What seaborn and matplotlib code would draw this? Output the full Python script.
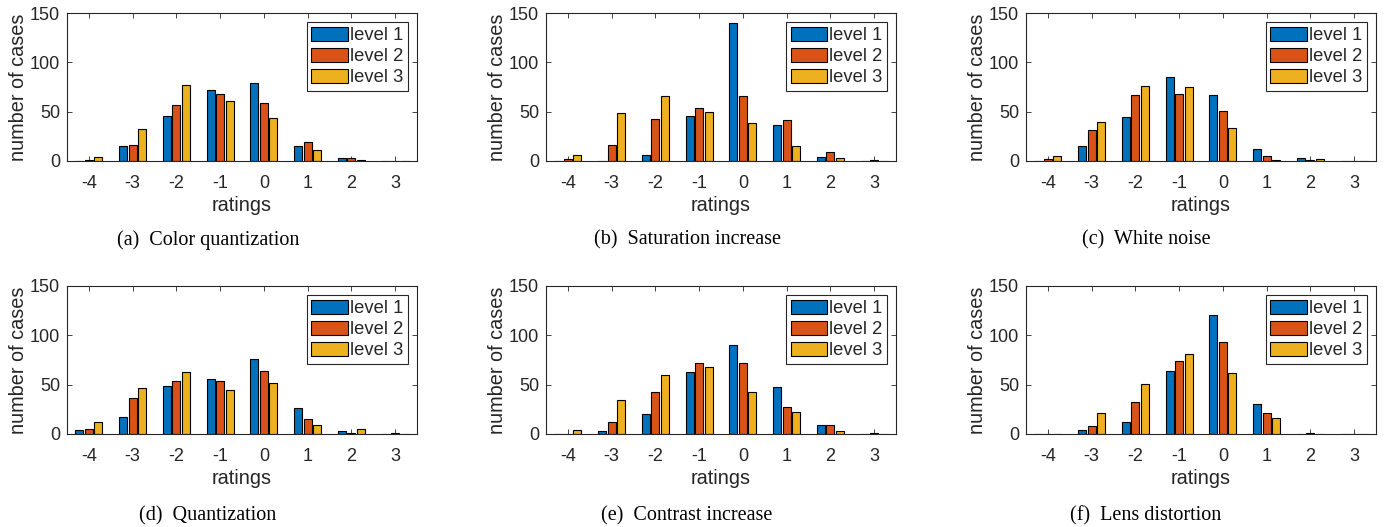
import pandas as pd
import matplotlib.pyplot as plt
import seaborn as sns

sns.set_theme(style="white")
plt.rcParams['font.family'] = ['Liberation Sans', 'DejaVu Sans']

# ratings on the x axis, three distortion levels per rating
ratings = ['-4', '-3', '-2', '-1', '0', '1', '2', '3']
levels = ['level 1', 'level 2', 'level 3']
colors = ['#0072BD', '#D95319', '#EDB120']

# number of cases per rating, one list per level
color_quant = [[0, 15, 46, 72, 79, 15, 3, 0],
               [1, 16, 57, 68, 59, 19, 3, 0],
               [4, 32, 77, 61, 44, 11, 1, 0]]
saturation = [[0, 0, 6, 46, 140, 36, 4, 0],
              [2, 16, 43, 54, 66, 42, 9, 1],
              [6, 49, 66, 50, 39, 15, 3, 0]]
white_noise = [[0, 15, 45, 85, 67, 12, 3, 0],
               [2, 31, 67, 68, 51, 5, 1, 0],
               [5, 40, 76, 75, 33, 1, 2, 0]]
quantization = [[4, 17, 49, 56, 76, 26, 3, 0],
                [5, 36, 54, 54, 64, 15, 1, 1],
                [12, 47, 63, 45, 52, 9, 5, 0]]
contrast = [[0, 3, 20, 63, 90, 48, 9, 0],
            [0, 12, 43, 72, 72, 27, 9, 1],
            [4, 34, 60, 68, 43, 22, 3, 0]]
lens = [[0, 4, 12, 64, 121, 30, 0, 0],
        [0, 8, 32, 74, 93, 21, 1, 0],
        [0, 21, 51, 81, 62, 16, 0, 0]]

panels = [color_quant, saturation, white_noise, quantization, contrast, lens]
captions = ['(a)  Color quantization', '(b)  Saturation increase', '(c)  White noise',
            '(d)  Quantization', '(e)  Contrast increase', '(f)  Lens distortion']

W, H = 1388, 527
fig = plt.figure(figsize=(W / 100, H / 100), dpi=100)

lefts = [67, 546, 1026]
tops = [13, 286]
ax_w, ax_h = 350, 148
cap_x = [208, 687, 1146]
cap_y = [240, 516]
grey = '#262626'

for i, counts in enumerate(panels):
    row, col = divmod(i, 3)
    ax = fig.add_axes([lefts[col] / W, 1 - (tops[row] + ax_h) / H, ax_w / W, ax_h / H])

    df = pd.DataFrame({
        'rating': ratings * 3,
        'level': [lv for lv in levels for _ in ratings],
        'cases': counts[0] + counts[1] + counts[2],
    })
    sns.barplot(data=df, x='rating', y='cases', hue='level', order=ratings,
                hue_order=levels, palette=colors, saturation=1, width=0.65, gap=0.17,
                edgecolor='black', linewidth=0.8, ax=ax, legend=True)

    ax.set_xlim(-0.5, 7.5)
    ax.set_ylim(0, 150)
    ax.set_yticks([0, 50, 100, 150])
    ax.set_xlabel('ratings', fontsize=14.3, color=grey, labelpad=3)
    ax.set_ylabel('number of cases', fontsize=14.3, color=grey, labelpad=1)
    ax.tick_params(axis='both', which='both', direction='in', length=3.5, width=0.6,
                   labelsize=13, colors=grey, top=True, right=True, bottom=True, left=True)
    ax.tick_params(axis='x', pad=10)
    ax.tick_params(axis='y', pad=5)
    for s in ax.spines.values():
        s.set_visible(True)
        s.set_color(grey)
        s.set_linewidth(0.8)

    leg = ax.legend(loc='upper right', fontsize=13.2, frameon=True, fancybox=False,
                    edgecolor=grey, framealpha=1, handlelength=2.0, handleheight=0.8,
                    labelspacing=0.2, handletextpad=0.1, borderpad=0.25,
                    borderaxespad=0.5)
    leg.get_frame().set_linewidth(0.8)

    fig.text(cap_x[col] / W, 1 - cap_y[row] / H, captions[i], ha='center', va='center',
             fontsize=14.5, family=['Liberation Serif', 'DejaVu Serif'], color='black')

fig.savefig('out.png', dpi=100, facecolor='white')
